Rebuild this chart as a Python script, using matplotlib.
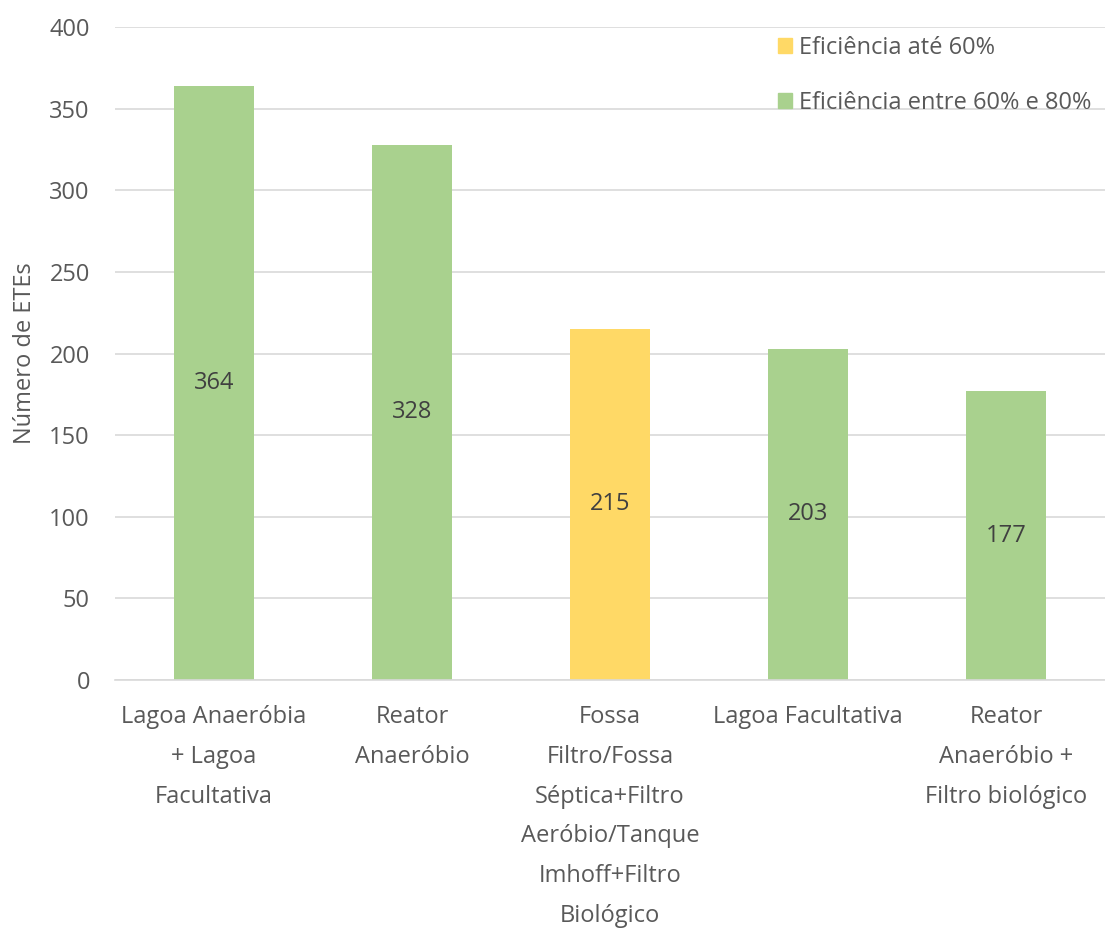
import matplotlib.pyplot as plt
from matplotlib.patches import Patch

plt.rcParams['font.family'] = ['Open Sans', 'DejaVu Sans']

categorias = [
    'Lagoa Anaeróbia\n+ Lagoa\nFacultativa',
    'Reator\nAnaeróbio',
    'Fossa\nFiltro/Fossa\nSéptica+Filtro\nAeróbio/Tanque\nImhoff+Filtro\nBiológico',
    'Lagoa Facultativa',
    'Reator\nAnaeróbio +\nFiltro biológico',
]
valores = [364, 328, 215, 203, 177]
grupos = ['60-80', '60-80', 'ate60', '60-80', '60-80']

cores = {'ate60': '#FFD966', '60-80': '#A9D18E'}
nomes = {'ate60': 'Eficiência até 60%', '60-80': 'Eficiência entre 60% e 80%'}
cinza = '#595959'
fs = 17

fig = plt.figure(figsize=(11.05, 9.34), dpi=100)
ax = fig.add_axes([0.104, 0.272, 0.896, 0.699])

x = range(len(valores))
barras = ax.bar(x, valores, width=0.40, color=[cores[g] for g in grupos], zorder=2)
for b, v in zip(barras, valores):
    ax.text(b.get_x() + b.get_width() / 2, v / 2, str(v), ha='center', va='center',
            fontsize=fs, color='#404040', zorder=3)

ax.set_xlim(-0.5, len(valores) - 0.5)
ax.set_ylim(0, 400)
ax.set_yticks(range(0, 401, 50))
ax.yaxis.grid(True, color='#D9D9D9', linewidth=1.2, zorder=0)
ax.set_xticks(list(x))
ax.set_xticklabels(categorias, fontsize=fs, color=cinza, linespacing=1.88)
ax.tick_params(axis='y', labelsize=fs, labelcolor=cinza, length=0, pad=18)
ax.tick_params(axis='x', length=0, pad=18)
for s in ['top', 'right', 'left']:
    ax.spines[s].set_visible(False)
ax.spines['bottom'].set_color('#D9D9D9')
ax.spines['bottom'].set_linewidth(1.2)
ax.set_ylabel('Número de ETEs', fontsize=fs, color=cinza, labelpad=9)

handles = [Patch(color=cores[k]) for k in ['ate60', '60-80']]
ax.legend(handles, [nomes[k] for k in ['ate60', '60-80']], loc='upper left',
          bbox_to_anchor=(0.648, 1.019), frameon=False, fontsize=17,
          labelcolor=cinza, handlelength=0.6, handleheight=0.6,
          handletextpad=0.3, labelspacing=1.3)

fig.savefig('out.png', dpi=100)
